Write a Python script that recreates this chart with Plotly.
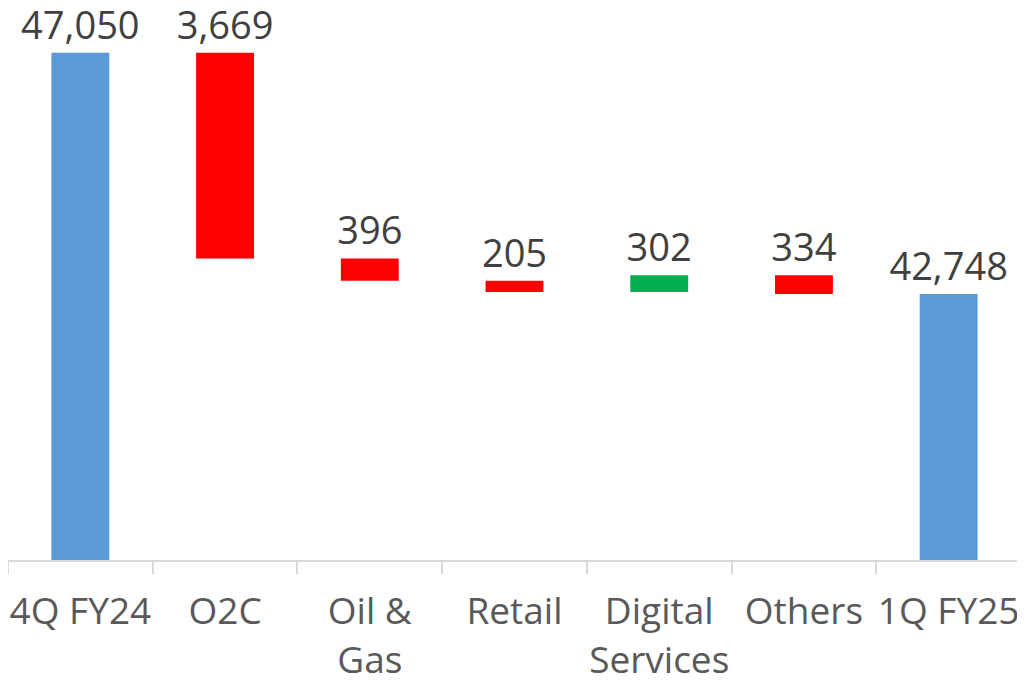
import pandas as pd
import plotly.graph_objects as go

CATEGORIES = ["4Q FY24", "O2C", "Oil &<br>Gas", "Retail", "Digital<br>Services", "Others", "1Q FY25"]
VALUES = [47050, -3669, -396, -205, 302, -334, 42748]
MEASURES = ["total", "delta", "delta", "delta", "delta", "delta", "total"]

COLOR_TOTAL = "#5B9BD5"
COLOR_DOWN = "#FF0000"
COLOR_UP = "#00B050"

df = pd.DataFrame({"cat": CATEGORIES, "val": VALUES, "measure": MEASURES})

# running level for the floating bars
bases, heights, colors = [], [], []
level = 0
for _, row in df.iterrows():
    if row["measure"] == "total":
        level = row["val"]
        bases.append(0)
        heights.append(row["val"])
        colors.append(COLOR_TOTAL)
    else:
        start = level
        level = level + row["val"]
        bases.append(min(start, level))
        heights.append(abs(row["val"]))
        colors.append(COLOR_UP if row["val"] > 0 else COLOR_DOWN)
df["base"] = bases
df["height"] = heights
df["label"] = df["val"].abs().map(lambda v: f"{v:,}")

fig = go.Figure(
    go.Bar(
        x=df["cat"],
        y=df["height"],
        base=df["base"],
        marker_color=colors,
        marker_line_width=0,
        width=0.4,
        text=df["label"],
        textposition="outside",
        constraintext="none",
        cliponaxis=False,
        textfont=dict(size=38, color="#404040", family="Open Sans"),
        hoverinfo="skip",
    )
)

# page body has an 8px margin, so the figure is sized to fit inside it
fig.update_layout(
    template="plotly_white",
    width=1017,
    height=678,
    margin=dict(l=0, r=4, t=14, b=126),
    paper_bgcolor="white",
    plot_bgcolor="white",
    showlegend=False,
    font=dict(family="Open Sans", size=37, color="#595959"),
    xaxis=dict(
        type="category",
        tickson="boundaries",
        ticks="outside",
        ticklen=12,
        tickcolor="#D9D9D9",
        tickwidth=2,
        tickangle=0,
        ticklabelstandoff=18,
        automargin=False,
        showline=True,
        linecolor="#D9D9D9",
        linewidth=2,
        showgrid=False,
        tickfont=dict(size=37, color="#595959", family="Open Sans"),
    ),
    yaxis=dict(
        range=[38000, 47600],
        visible=False,
        showgrid=False,
        zeroline=False,
        automargin=False,
    ),
)

fig.write_html("out.html")
